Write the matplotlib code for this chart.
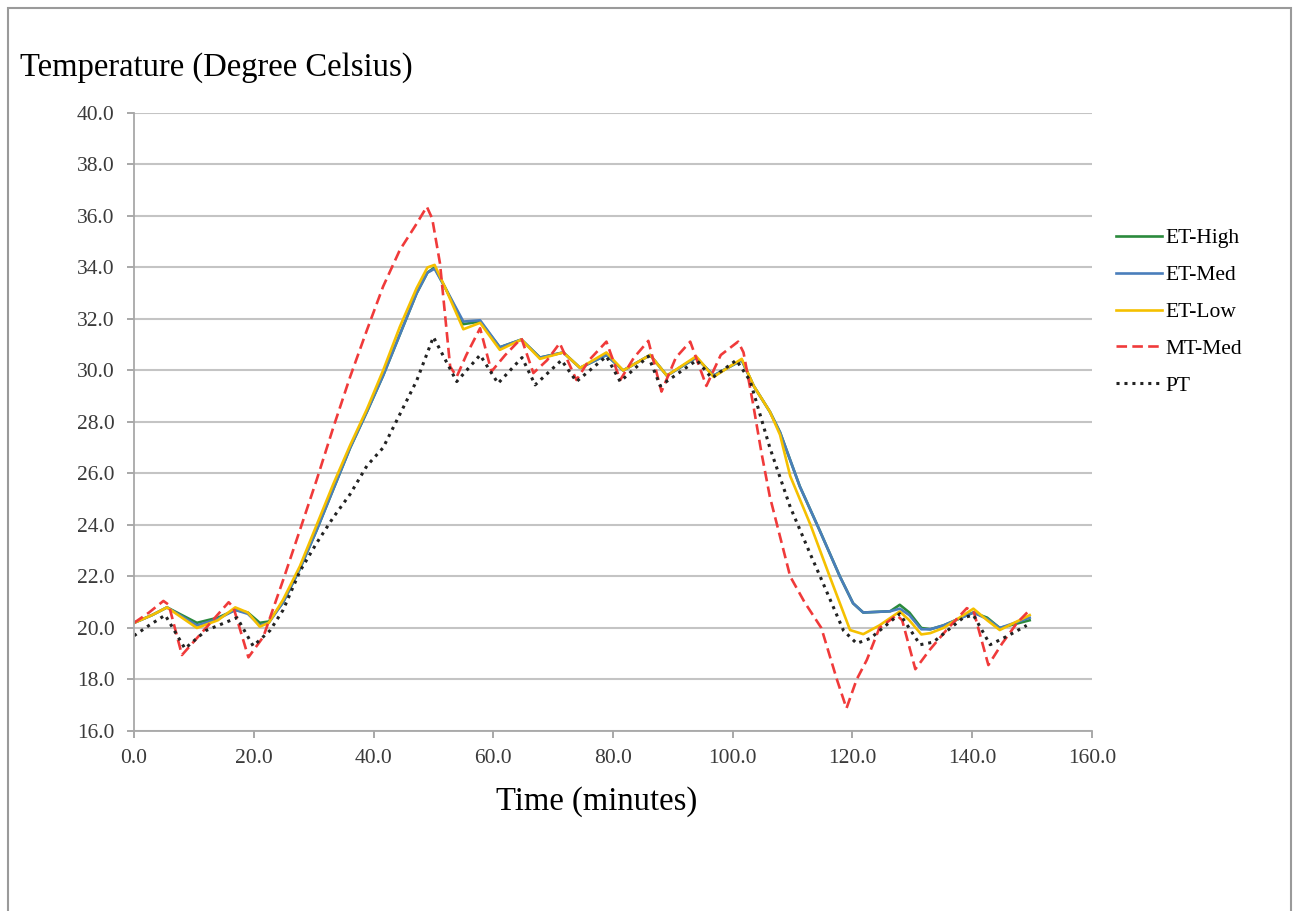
import numpy as np
import matplotlib.pyplot as plt
from matplotlib.patches import Rectangle

# Data
t_et = [0, 3, 5.5, 8, 10.5, 14, 16.9, 19, 21, 22.5, 24.9, 27.7, 30.5, 33.3, 36.1,
        38.9, 41.6, 44.4, 47.2, 49, 50.2, 52, 55, 57.8, 61.1, 64.7, 67.8, 71.7,
        74.5, 78.9, 81.7, 86.2, 89, 93.9, 96.8, 101.5, 103.5, 106.2, 107.9, 111.2,
        114.5, 117.9, 120.1, 121.8, 126.3, 127.9, 129.5, 131.5, 133, 135.2, 140.2,
        142.5, 144.6, 149.6]
et_high = [20.2, 20.5, 20.8, 20.5, 20.2, 20.4, 20.7, 20.6, 20.2, 20.25, 21.0, 22.3,
           23.8, 25.4, 27.0, 28.4, 29.8, 31.4, 33.0, 33.8, 34.0, 33.2, 31.8, 31.9,
           30.9, 31.2, 30.5, 30.7, 30.1, 30.6, 30.0, 30.6, 29.8, 30.5, 29.8, 30.4,
           29.4, 28.4, 27.6, 25.5, 23.8, 22.0, 20.96, 20.6, 20.65, 20.9, 20.6, 20.0,
           19.95, 20.1, 20.6, 20.4, 20.0, 20.3]
et_med = [20.2, 20.5, 20.8, 20.45, 20.1, 20.35, 20.7, 20.55, 20.1, 20.2, 21.0, 22.3,
          23.8, 25.4, 27.0, 28.4, 29.8, 31.4, 33.0, 33.8, 33.95, 33.2, 31.9, 31.95,
          30.9, 31.2, 30.5, 30.7, 30.1, 30.6, 30.0, 30.6, 29.8, 30.5, 29.8, 30.4,
          29.4, 28.4, 27.6, 25.5, 23.8, 22.0, 20.96, 20.6, 20.65, 20.75, 20.5, 19.95,
          19.95, 20.1, 20.6, 20.35, 20.0, 20.4]

t_low = [0, 3, 5.5, 8, 10.5, 14, 16.9, 19, 21, 22.5, 24.9, 27.7, 30.5, 33.3, 36.1,
         38.9, 41.6, 44.4, 47.2, 49, 50.2, 52, 55, 57.8, 61.1, 64.7, 67.8, 71.7,
         74.5, 78.9, 81.7, 86.2, 89, 93.9, 96.8, 101.5, 103.5, 106.2, 107.9, 109.6,
         113, 116.2, 119.6, 121.8, 124.5, 127.9, 129.5, 131.5, 133, 135.2, 140.2,
         142.5, 144.6, 149.6]
et_low = [20.2, 20.5, 20.8, 20.4, 20.0, 20.3, 20.8, 20.6, 20.05, 20.2, 21.1, 22.4,
          24.0, 25.6, 27.1, 28.5, 30.0, 31.7, 33.2, 34.0, 34.1, 33.2, 31.6, 31.85,
          30.8, 31.2, 30.45, 30.7, 30.1, 30.7, 30.0, 30.6, 29.8, 30.55, 29.75, 30.45,
          29.4, 28.4, 27.5, 25.9, 24.0, 22.0, 19.92, 19.76, 20.1, 20.64, 20.3, 19.75,
          19.8, 20.0, 20.75, 20.3, 19.92, 20.5]

t_mt = [0, 2.5, 4.9, 5.8, 8, 12, 15.8, 16.6, 19.1, 21.6, 24.9, 27.7, 30.5, 33.3,
        36.1, 38.9, 41.6, 44.4, 47.2, 48.9, 49.8, 51.1, 52.8, 53.9, 55.5, 57.8,
        59.7, 62, 64.7, 66.7, 69, 71.1, 73.9, 76, 78.9, 81.2, 83.5, 85.9, 88.1,
        90.5, 92.9, 95.6, 98, 100.9, 101.8, 103.4, 104.8, 106.2, 107.9, 109.6, 112,
        114.8, 117.4, 119, 120.7, 122.4, 124.5, 127.4, 128.3, 130.5, 132.9, 135.7,
        139.1, 140.3, 142.7, 145, 147.5, 149.6]
mt_med = [20.2, 20.6, 21.05, 20.9, 18.95, 20.0, 21.0, 20.8, 18.86, 19.66, 21.86,
          23.8, 25.75, 27.8, 29.76, 31.57, 33.26, 34.68, 35.7, 36.36, 35.9, 34.16,
          30.15, 29.76, 30.6, 31.64, 29.96, 30.6, 31.25, 29.9, 30.4, 31.06, 29.63,
          30.4, 31.12, 29.63, 30.5, 31.15, 29.18, 30.5, 31.12, 29.4, 30.6, 31.12,
          30.7, 28.7, 26.8, 25.1, 23.55, 22.0, 21.0, 20.0, 18.0, 16.88, 18.0, 18.76,
          20.0, 20.5, 20.3, 18.4, 19.15, 19.92, 20.77, 20.6, 18.56, 19.4, 20.2, 20.7]

t_pt = [0, 2.5, 5.2, 8.5, 12, 17.2, 19.9, 22.7, 24.9, 27.7, 30.5, 33.3, 36.1, 38.9,
        41.6, 44.4, 47.2, 50, 53.9, 57.8, 60.8, 64.8, 67, 71.4, 73.9, 78.9, 81.2,
        85.9, 87.9, 94, 96.5, 100.6, 102.9, 106.2, 109.6, 112.9, 114.6, 118.5,
        120.7, 123, 127.9, 131.3, 133.5, 138.5, 140.2, 143, 146, 149.1]
pt = [19.7, 20.1, 20.5, 19.2, 19.9, 20.4, 19.3, 19.9, 20.7, 22.2, 23.3, 24.3, 25.2,
      26.3, 27.0, 28.3, 29.6, 31.3, 29.57, 30.6, 29.5, 30.5, 29.44, 30.4, 29.57,
      30.55, 29.57, 30.55, 29.4, 30.4, 29.7, 30.4, 29.6, 27.0, 24.7, 22.9, 22.0,
      19.9, 19.4, 19.6, 20.55, 19.35, 19.45, 20.4, 20.5, 19.35, 19.7, 20.1]

plt.rcParams['font.family'] = ['Liberation Serif', 'DejaVu Serif']

fig = plt.figure(figsize=(12.99, 9.11), dpi=100)
ax = fig.add_axes([0.1032, 0.1976, 0.7374, 0.6784])

lw = 1.9
ax.plot(t_et, et_high, color='#2a8a3c', lw=lw, label='ET-High')
ax.plot(t_et, et_med, color='#4a7ebb', lw=lw, label='ET-Med')
ax.plot(t_low, et_low, color='#f5c000', lw=lw, label='ET-Low')
ax.plot(t_mt, mt_med, color='#f03a3a', lw=lw, ls=(0, (4, 2)), label='MT-Med')
ax.plot(t_pt, pt, color='#222222', lw=2.2, ls=(0, (1, 1.6)), label='PT')

ax.set_xlim(0, 160)
ax.set_ylim(16, 40)
ax.set_xticks(np.arange(0, 161, 20))
ax.set_yticks(np.arange(16, 41, 2))
ax.set_xticklabels(['%.1f' % v for v in np.arange(0, 161, 20)])
ax.set_yticklabels(['%.1f' % v for v in np.arange(16, 41, 2)])
ax.tick_params(labelsize=15.5, colors='#9a9a9a', labelcolor='#3a3a3a', length=5, width=1.2)
ax.tick_params(axis='y', pad=9)
ax.tick_params(axis='x', pad=8)
ax.grid(axis='y', color='#c4c4c4', lw=1.5)
ax.set_axisbelow(True)
for s in ['top', 'right']:
    ax.spines[s].set_visible(False)
for s in ['left', 'bottom']:
    ax.spines[s].set_color('#a8a8a8')
    ax.spines[s].set_linewidth(1.3)

fig.text(20/1299, 1 - 68/911, 'Temperature (Degree Celsius)', fontsize=23.5, va='center', ha='left')
fig.text(597/1299, 1 - 802/911, 'Time (minutes)', fontsize=23.5, va='center', ha='center')

fig.legend(loc='upper left', bbox_to_anchor=(1097/1299, 1 - 209/911), frameon=False,
           fontsize=15.5, handlelength=2.1, handletextpad=0.2, labelspacing=0.78)

# outer frame
fig.patches.append(Rectangle((8/1299, -0.1), 1283/1299, 1.1 - 8/911, transform=fig.transFigure,
                             fill=False, edgecolor='#9a9a9a', lw=1.5))

fig.savefig('out.png', dpi=100)
